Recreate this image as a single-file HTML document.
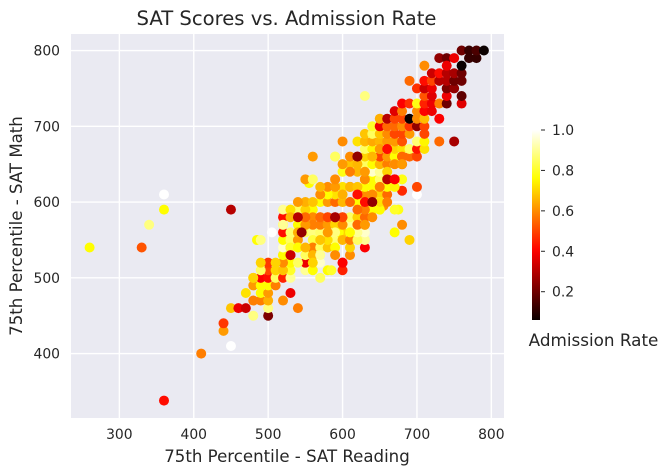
<!DOCTYPE html>
<html>
<head>
<meta charset="utf-8">
<style>
html,body{margin:0;padding:0;background:#fff;}
svg{display:block;font-family:"DejaVu Sans","Liberation Sans",sans-serif;}
text{fill:#262626;}
</style>
</head>
<body>
<svg id="chart" xmlns="http://www.w3.org/2000/svg" width="667" height="475" viewBox="0 0 667 475">
<rect x="71" y="34" width="433" height="384" fill="#EAEAF2"/>
<g id="grid"></g>
<g id="points"></g>
<g id="xticks"></g>
<g id="yticks"></g>
<text x="286.5" y="25" text-anchor="middle" font-size="19.6">SAT Scores vs. Admission Rate</text>
<text x="287" y="462" text-anchor="middle" font-size="16.6">75th Percentile - SAT Reading</text>
<text transform="translate(22,226) rotate(-90)" text-anchor="middle" font-size="16.6">75th Percentile - SAT Math</text>
<defs><linearGradient id="hotGradient" x1="0" y1="1" x2="0" y2="0"></linearGradient></defs>
<rect id="colorbar" x="532" y="130" width="8" height="190" fill="url(#hotGradient)"/>
<g id="cbticks"></g>
<text x="593.5" y="346" text-anchor="middle" font-size="16.8">Admission Rate</text>
</svg>
<script>
const xTickValues = [300,400,500,600,700,800];
const yTickValues = [400,500,600,700,800];
const colorbarTickValues = [0.2,0.4,0.6,0.8,1.0];
const xDomain = [235,817];
const yDomain = [315,821.8];
const rateDomain = [0.06,1.0];

const readingScores = [
260,330,340,360,360,450,360,410,450,440,440,450,
460,470,480,500,500,480,490,500,520,540,530,470,
490,500,480,490,500,510,480,490,500,510,520,530,
480,530,500,490,510,520,570,550,560,580,585,600,
600,530,500,490,520,510,570,550,540,555,550,530,
520,520,520,530,520,530,540,540,520,520,530,545,
550,560,570,560,520,540,550,520,530,540,560,570,
590,600,595,530,520,560,540,550,530,540,570,580,
600,610,610,630,630,630,690,670,680,700,700,680,
680,670,660,675,655,650,640,640,630,620,630,650,
660,570,580,590,600,610,620,630,560,570,580,590,
600,610,620,630,640,650,670,550,570,580,590,600,
610,620,650,590,580,600,580,610,630,640,650,660,
670,555,600,610,630,640,650,660,485,490,505,550,
560,590,600,620,640,650,660,630,590,610,630,640,
650,660,670,680,610,620,630,640,650,660,670,680,
690,700,630,640,650,660,670,680,690,700,710,600,
620,630,640,650,660,670,680,700,710,730,750,630,
640,650,660,670,680,690,710,640,650,660,670,680,
690,700,710,650,660,670,680,690,700,710,730,670,
680,700,710,720,680,690,700,710,720,730,740,760,
710,720,740,760,700,710,720,740,750,690,710,720,
730,740,750,760,720,730,740,750,760,710,730,740,
750,740,760,770,780,760,770,780,790,630,
560,570,580,590,590,560,550,580,600,610,620,620,
610,600,590,580,570,620,640,650,660,630,540,560,
550,550,530,540,560,570,570,590,590,600,610,620,
630,640,650,640,650,660,670,680,680,620,610,600,
620,630,600,660,630,620,660,670,640,590,620,540,
530,545,560
];
const mathScores = [
540,540,570,590,610,590,338,400,410,430,440,460,
460,460,450,450,460,470,470,470,470,460,480,480,
480,480,490,490,490,490,500,500,500,500,500,500,
500,510,510,510,510,510,500,510,510,510,510,510,
520,520,520,520,520,520,520,520,520,535,530,530,
530,530,540,540,550,550,550,540,560,570,560,560,
560,560,560,550,580,580,570,570,540,540,540,540,
550,560,560,590,590,590,590,590,590,570,580,580,
520,530,540,540,550,560,550,560,570,610,620,615,
630,630,630,590,595,590,590,600,600,610,610,610,
610,570,570,570,570,570,570,570,580,580,580,580,
580,580,580,580,590,590,590,600,600,600,600,600,
600,600,600,610,610,610,620,620,620,620,620,620,
620,625,620,620,630,630,630,630,550,550,560,630,
630,660,640,640,640,640,640,630,660,650,650,650,
650,650,650,650,660,660,660,660,660,660,660,660,
660,660,670,670,670,670,670,670,670,670,670,680,
680,680,680,680,680,680,680,680,680,680,680,690,
690,690,690,690,690,690,690,700,700,700,700,700,
700,700,700,710,710,710,710,710,710,710,710,720,
720,720,720,720,730,730,730,730,730,730,730,730,
740,740,740,740,750,750,750,750,750,760,760,760,
760,760,760,760,770,770,770,770,770,780,790,790,
790,780,780,790,790,800,800,800,800,740,
530,530,540,540,530,520,540,550,550,550,550,560,
560,570,560,560,550,570,580,600,600,590,560,570,
570,580,580,600,600,610,620,620,630,650,640,650,
640,660,670,610,620,640,650,660,650,620,600,610,
590,570,580,670,600,610,630,630,600,580,660,580,
530,560,660
];
const admissionRates = [
0.76,0.52,0.88,0.76,1.00,0.30,0.42,0.58,1.00,0.62,0.48,0.68,
0.38,0.33,0.88,0.22,0.88,0.58,0.58,0.65,0.60,0.58,0.38,0.72,
0.76,0.62,0.62,0.76,0.76,0.58,0.68,0.40,0.42,0.85,0.45,0.90,
0.70,0.80,0.50,0.85,0.70,0.68,0.85,0.90,0.76,0.76,0.80,0.45,
0.42,0.76,0.48,0.70,0.60,0.70,0.95,0.38,0.85,0.50,0.85,0.33,
0.68,0.76,0.95,0.60,0.76,0.85,0.62,0.76,0.42,0.76,0.86,0.25,
0.85,0.88,0.86,0.82,0.42,0.30,0.42,0.90,0.80,0.76,0.58,0.85,
0.87,0.70,0.76,0.88,0.90,0.76,0.85,0.70,0.72,0.76,0.58,0.62,
0.40,0.60,0.70,0.40,0.90,0.95,0.70,0.76,0.60,1.00,0.50,0.46,
0.78,0.40,0.30,0.78,0.60,0.76,0.72,0.25,0.42,0.42,0.60,0.70,
0.55,0.58,0.62,0.70,0.76,0.90,0.72,0.58,0.60,0.55,0.50,0.30,
0.58,0.85,0.70,0.55,0.76,0.76,0.80,0.65,0.76,0.62,0.55,0.66,
0.76,0.76,0.90,0.72,0.76,0.76,0.60,0.50,0.76,0.76,0.72,0.76,
0.75,0.76,0.72,0.66,0.70,0.76,0.86,0.76,0.76,0.88,1.00,0.62,
0.85,0.85,0.78,0.66,0.95,0.90,0.90,0.60,0.85,0.68,0.85,0.76,
0.66,0.58,0.90,0.42,0.60,0.25,0.70,0.72,0.50,0.62,0.76,0.45,
0.55,0.50,0.85,0.75,0.72,0.42,0.70,0.72,0.85,0.43,0.72,0.60,
0.72,0.66,0.64,0.66,0.62,0.62,0.52,0.87,0.75,0.55,0.28,0.68,
0.85,0.68,0.60,0.50,0.50,0.62,0.50,0.80,0.38,0.55,0.55,0.60,
0.48,0.25,0.50,0.65,0.30,0.50,0.50,0.06,0.60,0.67,0.40,0.36,
0.58,0.60,0.40,0.38,0.40,0.47,0.78,0.45,0.38,0.58,0.20,0.36,
0.52,0.36,0.38,0.18,0.47,0.33,0.38,0.22,0.25,0.55,0.42,0.50,
0.30,0.30,0.20,0.20,0.33,0.42,0.30,0.28,0.20,0.60,0.25,0.20,
0.38,0.38,0.06,0.12,0.12,0.20,0.12,0.15,0.06,0.88,
0.66,0.90,0.68,0.76,0.60,0.70,0.66,0.72,0.66,0.58,0.85,0.90,
0.76,0.60,0.88,0.62,0.68,0.55,0.60,0.72,0.58,0.58,0.65,0.58,
0.62,0.55,0.66,0.62,0.68,0.60,0.66,0.62,0.60,0.62,0.58,0.66,
0.62,0.66,0.62,0.60,0.58,0.70,0.60,0.55,0.62,0.68,0.55,0.65,
0.55,0.62,0.50,0.42,0.42,0.42,0.30,0.40,0.25,0.28,0.25,0.30,
0.33,0.25,0.62
];

const svgNS = 'http://www.w3.org/2000/svg';
function xScale(v){ return 71 + (v - xDomain[0]) / (xDomain[1] - xDomain[0]) * 433; }
function yScale(v){ return 418 - (v - yDomain[0]) / (yDomain[1] - yDomain[0]) * 384; }
function cbScale(v){ return 320 - (v - rateDomain[0]) / (rateDomain[1] - rateDomain[0]) * 190; }
function clamp01(v){ return Math.max(0, Math.min(1, v)); }
function hot(v){
  const t = clamp01((v - rateDomain[0]) / (rateDomain[1] - rateDomain[0]));
  const r = Math.round(255 * clamp01(0.0416 + t / 0.365079 * 0.9584));
  const g = Math.round(255 * clamp01((t - 0.365079) / (0.746032 - 0.365079)));
  const b = Math.round(255 * clamp01((t - 0.746032) / (1 - 0.746032)));
  return 'rgb(' + r + ',' + g + ',' + b + ')';
}
function make(tag, attrs, parent){
  const el = document.createElementNS(svgNS, tag);
  for (const k in attrs) el.setAttribute(k, attrs[k]);
  parent.appendChild(el);
  return el;
}
const grid = document.getElementById('grid');
const xTicksGroup = document.getElementById('xticks');
const yTicksGroup = document.getElementById('yticks');
xTickValues.forEach(function(v){
  const line = make('line', {x1:xScale(v), x2:xScale(v), y1:34, y2:418, stroke:'#fff', 'stroke-width':1.4}, grid);
  
  
  const label = make('text', {x:xScale(v), y:439, 'text-anchor':'middle', 'font-size':13.9}, xTicksGroup);
  
  
  label.textContent = v;
});
yTickValues.forEach(function(v){
  const line = make('line', {x1:71, x2:504, y1:yScale(v), y2:yScale(v), stroke:'#fff', 'stroke-width':1.4}, grid);
  
  
  const label = make('text', {x:60, y:yScale(v) + 5, 'text-anchor':'end', 'font-size':13.9}, yTicksGroup);
  
  
  label.textContent = v;
});
const pointsGroup = document.getElementById('points');
readingScores.forEach(function(r, i){
  const c = make('circle', {cx:xScale(r), cy:yScale(mathScores[i]), r:5, fill:hot(admissionRates[i])}, pointsGroup);
  
  
});
const gradient = document.getElementById('hotGradient');
for (let i = 0; i <= 32; i++) {
  const v = rateDomain[0] + (rateDomain[1] - rateDomain[0]) * i / 32;
  make('stop', {offset:(i / 32), 'stop-color':hot(v)}, gradient);
}
const cbGroup = document.getElementById('cbticks');
colorbarTickValues.forEach(function(v){
  const tick = make('line', {x1:541, x2:545, y1:cbScale(v), y2:cbScale(v), stroke:'#262626', 'stroke-width':1}, cbGroup);
  
  
  const label = make('text', {x:552, y:cbScale(v) + 5, 'font-size':13.9}, cbGroup);
  
  
  label.textContent = v.toFixed(1);
});
</script>
</body>
</html>
